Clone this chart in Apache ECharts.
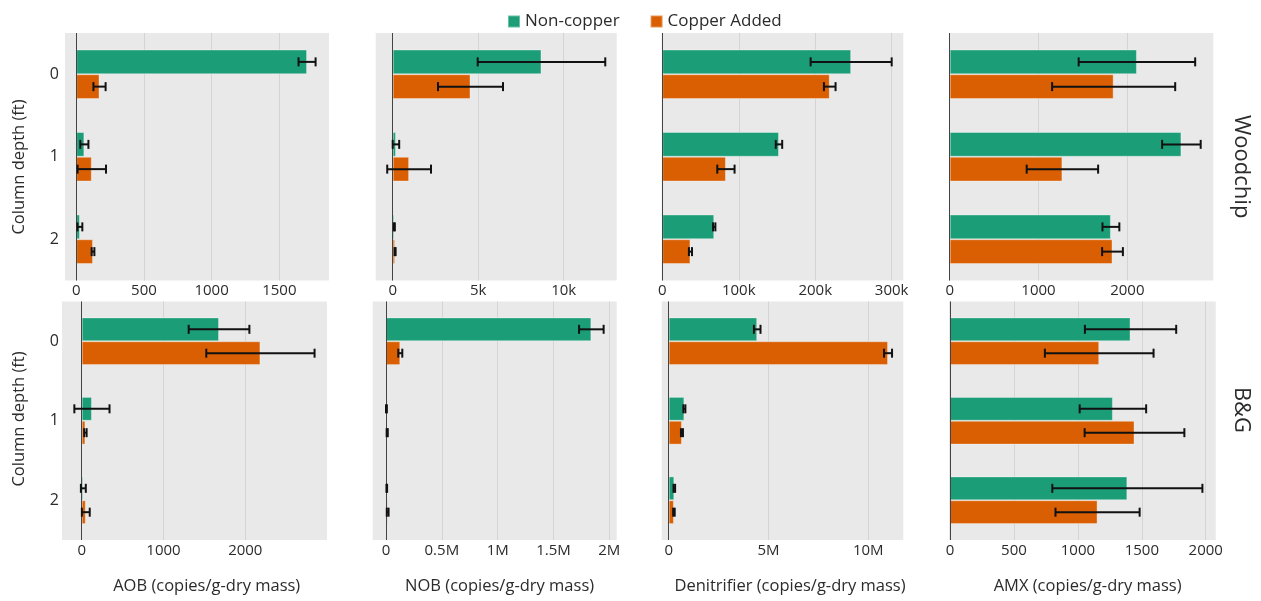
<!DOCTYPE html>
<html><head><meta charset="utf-8">
<script src="https://cdn.jsdelivr.net/npm/echarts@6/dist/echarts.min.js"></script>
<style>html,body{margin:0;padding:0;background:#fff}#c{width:1261px;height:601px}</style>
</head><body><div id="c"></div>
<script>
// ---------------- DATA ----------------
const categories = ['0', '1', '2'];
const seriesNames = ['Non-copper', 'Copper Added'];
const rowNames = ['Woodchip', 'B&G'];
const xTitles = ['AOB (copies/g-dry mass)', 'NOB (copies/g-dry mass)', 'Denitrifier (copies/g-dry mass)', 'AMX (copies/g-dry mass)'];
const yTitle = 'Column depth (ft)';

// Woodchip row
const aobWoodNon = [1705, 60, 27];
const aobWoodNonErr = [63, 30, 18];
const aobWoodCu = [172, 115, 124];
const aobWoodCuErr = [45, 105, 10];

const nobWoodNon = [8700, 190, 96];
const nobWoodNonErr = [3730, 190, 30];
const nobWoodCu = [4550, 960, 140];
const nobWoodCuErr = [1900, 1280, 30];

const denWoodNon = [247000, 152600, 67900];
const denWoodNonErr = [53000, 4200, 1500];
const denWoodCu = [219000, 83200, 36800];
const denWoodCuErr = [7600, 11300, 2000];

const amxWoodNon = [2108, 2609, 1815];
const amxWoodNonErr = [656, 217, 95];
const amxWoodCu = [1846, 1269, 1833];
const amxWoodCuErr = [693, 402, 117];

// B&G row
const aobBgNon = [1679, 125, 20];
const aobBgNonErr = [371, 215, 30];
const aobBgCu = [2185, 45, 50];
const aobBgCuErr = [662, 15, 48];

const nobBgNon = [1839000, 4000, 7000];
const nobBgNonErr = [110000, 4000, 3000];
const nobBgCu = [128000, 11000, 15000];
const nobBgCuErr = [18000, 5000, 8000];

const denBgNon = [4435000, 786000, 282000];
const denBgNonErr = [165000, 50000, 40000];
const denBgCu = [10990000, 665000, 262000];
const denBgCuErr = [200000, 50000, 40000];

const amxBgNon = [1412, 1274, 1387];
const amxBgNonErr = [357, 260, 587];
const amxBgCu = [1167, 1443, 1154];
const amxBgCuErr = [425, 390, 329];

// tick values and labels
const aobWoodTicks = [0, 500, 1000, 1500];
const aobWoodTickLabels = ['0', '500', '1000', '1500'];
const nobWoodTicks = [0, 5000, 10000];
const nobWoodTickLabels = ['0', '5k', '10k'];
const denWoodTicks = [0, 100000, 200000, 300000];
const denWoodTickLabels = ['0', '100k', '200k', '300k'];
const amxWoodTicks = [0, 1000, 2000];
const amxWoodTickLabels = ['0', '1000', '2000'];
const aobBgTicks = [0, 1000, 2000];
const aobBgTickLabels = ['0', '1000', '2000'];
const nobBgTicks = [0, 500000, 1000000, 1500000, 2000000];
const nobBgTickLabels = ['0', '0.5M', '1M', '1.5M', '2M'];
const denBgTicks = [0, 5000000, 10000000];
const denBgTickLabels = ['0', '5M', '10M'];
const amxBgTicks = [0, 500, 1000, 1500, 2000];
const amxBgTickLabels = ['0', '500', '1000', '1500', '2000'];

// axis ranges
const aobWoodRange = [-83, 1867];
const nobWoodRange = [-994, 13099];
const denWoodRange = [-800, 315200];
const amxWoodRange = [-8, 2968];
const aobBgRange = [-241, 2999];
const nobBgRange = [-119000, 2066000];
const denBgRange = [-350000, 11754000];
const amxBgRange = [-8, 2078];

// ---------------- LAYOUT / STYLE ----------------
const GREEN = '#1b9e77', ORANGE = '#d95f02';
const FONT = '"Open Sans", "DejaVu Sans", sans-serif';
const TXT = '#2b2b2b';

const panels = [
  {non: aobWoodNon, nonErr: aobWoodNonErr, cu: aobWoodCu, cuErr: aobWoodCuErr, ticks: aobWoodTicks, labels: aobWoodTickLabels, range: aobWoodRange, rect: [65, 33, 264, 247.5], ylab: true, ymargin: 6},
  {non: nobWoodNon, nonErr: nobWoodNonErr, cu: nobWoodCu, cuErr: nobWoodCuErr, ticks: nobWoodTicks, labels: nobWoodTickLabels, range: nobWoodRange, rect: [375.7, 33, 241, 247.5]},
  {non: denWoodNon, nonErr: denWoodNonErr, cu: denWoodCu, cuErr: denWoodCuErr, ticks: denWoodTicks, labels: denWoodTickLabels, range: denWoodRange, rect: [661.7, 33, 241.6, 247.5]},
  {non: amxWoodNon, nonErr: amxWoodNonErr, cu: amxWoodCu, cuErr: amxWoodCuErr, ticks: amxWoodTicks, labels: amxWoodTickLabels, range: amxWoodRange, rect: [949, 33, 264.3, 247.5]},
  {non: aobBgNon, nonErr: aobBgNonErr, cu: aobBgCu, cuErr: aobBgCuErr, ticks: aobBgTicks, labels: aobBgTickLabels, range: aobBgRange, rect: [62, 301.5, 265, 238.5], ylab: true, ymargin: 3},
  {non: nobBgNon, nonErr: nobBgNonErr, cu: nobBgCu, cuErr: nobBgCuErr, ticks: nobBgTicks, labels: nobBgTickLabels, range: nobBgRange, rect: [372.7, 301.5, 244, 238.5]},
  {non: denBgNon, nonErr: denBgNonErr, cu: denBgCu, cuErr: denBgCuErr, ticks: denBgTicks, labels: denBgTickLabels, range: denBgRange, rect: [661.7, 301.5, 241.6, 238.5]},
  {non: amxBgNon, nonErr: amxBgNonErr, cu: amxBgCu, cuErr: amxBgCuErr, ticks: amxBgTicks, labels: amxBgTickLabels, range: amxBgRange, rect: [949, 301.5, 266.7, 238.5]}
];

const GAP = 0.4; // barCategoryGap fraction
function renderErr(params, api) {
  const cat = api.value(0), v = api.value(1), e = api.value(2), s = api.value(3);
  const c = api.coord([v, cat]);
  const band = api.size([0, 1])[1];
  const bw = band * (1 - GAP) / 2;
  const y = c[1] + (s === 0 ? -bw / 2 : bw / 2);
  const lo = api.coord([v - e, cat])[0];
  const hi = api.coord([v + e, cat])[0];
  const cap = 4.5;
  const st = {stroke: '#111', lineWidth: 2};
  return {type: 'group', children: [
    {type: 'line', shape: {x1: lo, y1: y, x2: hi, y2: y}, style: st},
    {type: 'line', shape: {x1: lo, y1: y - cap, x2: lo, y2: y + cap}, style: st},
    {type: 'line', shape: {x1: hi, y1: y - cap, x2: hi, y2: y + cap}, style: st}
  ]};
}

const grids = [], xAxes = [], yAxes = [], series = [];
panels.forEach((p, i) => {
  grids.push({left: p.rect[0], top: p.rect[1], width: p.rect[2], height: p.rect[3],
    show: true, backgroundColor: '#e9e9e9', borderWidth: 0, containLabel: false, outerBoundsMode: 'none'});
  const tv = p.ticks, tl = p.labels;
  xAxes.push({type: 'value', gridIndex: i, min: p.range[0], max: p.range[1],
    axisLine: {show: false}, axisTick: {show: false, customValues: tv},
    splitLine: {show: true, lineStyle: {color: '#d4d4d4', width: 1}},
    axisLabel: {show: true, customValues: tv, margin: 3, fontSize: 15, fontFamily: FONT, color: TXT,
      formatter: v => { const k = tv.indexOf(v); return k >= 0 ? tl[k] : ''; }}
  });
  yAxes.push({type: 'category', gridIndex: i, data: categories, inverse: true,
    axisLine: {show: false}, axisTick: {show: false}, splitLine: {show: false},
    axisLabel: {show: !!p.ylab, margin: p.ymargin || 6, fontSize: 16, fontFamily: FONT, color: TXT}
  });
  series.push({type: 'bar', name: seriesNames[0], xAxisIndex: i, yAxisIndex: i, data: p.non,
    barCategoryGap: '40%', barGap: '0%',
    itemStyle: {color: GREEN, borderColor: 'rgba(255,255,255,0.35)', borderWidth: 1},
    markLine: {silent: true, symbol: 'none', label: {show: false}, animation: false,
      lineStyle: {color: '#444', width: 1, type: 'solid'}, emphasis: {disabled: true},
      data: [{xAxis: 0}]}
  });
  series.push({type: 'bar', name: seriesNames[1], xAxisIndex: i, yAxisIndex: i, data: p.cu,
    barCategoryGap: '40%', barGap: '0%',
    itemStyle: {color: ORANGE, borderColor: 'rgba(255,255,255,0.35)', borderWidth: 1}
  });
  [[p.non, p.nonErr], [p.cu, p.cuErr]].forEach((pair, s) => {
    series.push({type: 'custom', name: 'err' + i + '_' + s, xAxisIndex: i, yAxisIndex: i,
      renderItem: renderErr, clip: false, silent: true, z: 10,
      encode: {x: 1, y: 0},
      data: categories.map((c, k) => [k, pair[0][k], pair[1][k], s])
    });
  });
});

const xTitleCenters = [206.7, 499.6, 790, 1087.6];
const graphic = [];
xTitles.forEach((t, i) => graphic.push({type: 'text', x: xTitleCenters[i], y: 586.5,
  style: {text: t, textAlign: 'center', textVerticalAlign: 'middle', font: '16.5px ' + FONT, fill: TXT}}));
[167, 419].forEach(y => graphic.push({type: 'text', x: 19, y: y, rotation: Math.PI / 2,
  style: {text: yTitle, textAlign: 'center', textVerticalAlign: 'middle', font: '16.5px ' + FONT, fill: TXT}}));
[166.7, 410].forEach((y, i) => graphic.push({type: 'text', x: 1241.7, y: y, rotation: -Math.PI / 2,
  style: {text: rowNames[i], textAlign: 'center', textVerticalAlign: 'middle', font: '22px ' + FONT, fill: TXT}}));

const chart = echarts.init(document.getElementById('c'), null, {renderer: 'canvas'});
chart.setOption({
  animation: false,
  backgroundColor: '#ffffff',
  textStyle: {fontFamily: FONT},
  legend: {data: seriesNames, left: 502, top: 8, icon: 'rect', itemWidth: 12, itemHeight: 12, itemGap: 30,
    textStyle: {fontSize: 17, fontFamily: FONT, color: TXT}},
  grid: grids, xAxis: xAxes, yAxis: yAxes, series: series, graphic: graphic
});
</script></body></html>
